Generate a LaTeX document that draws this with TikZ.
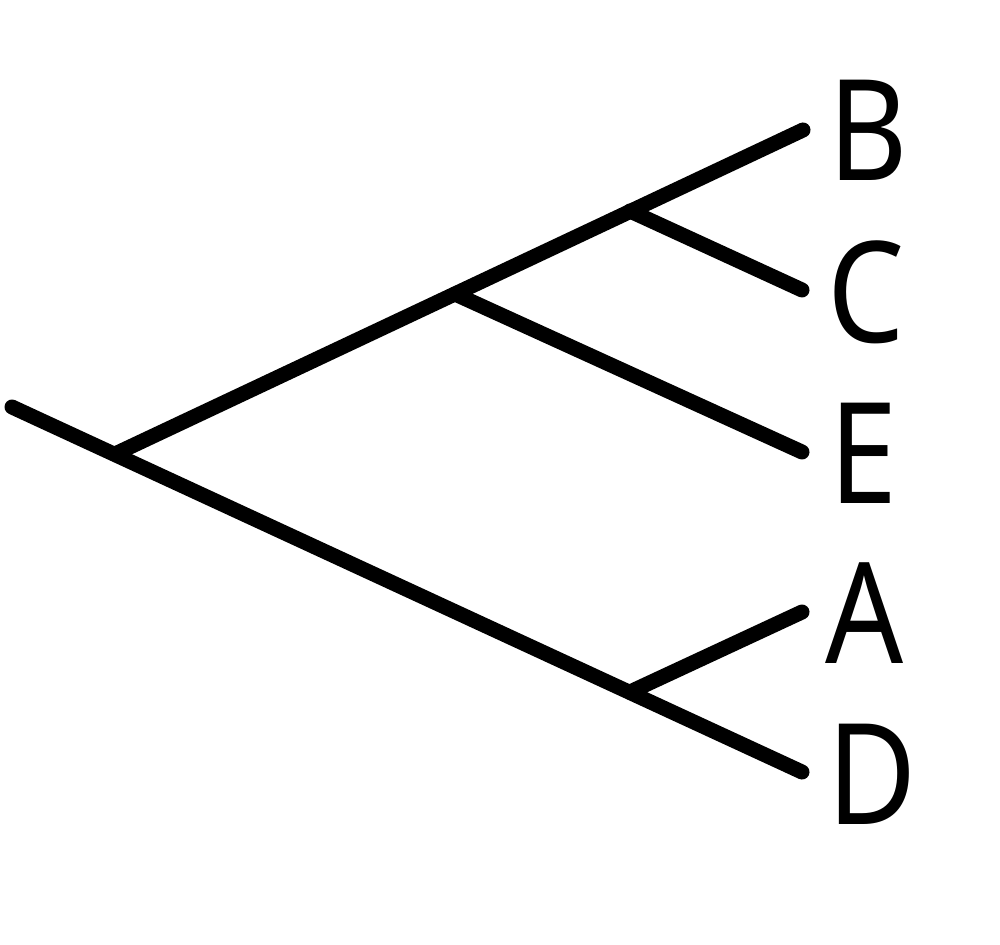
\documentclass[tikz,border=0pt]{standalone}
\usepackage{fontspec}
\newfontfamily\taxonfont[FakeStretch=0.87]{Noto Sans}
\begin{document}
\begin{tikzpicture}[every node/.style={inner sep=0pt, font=\taxonfont\fontsize{40}{48}\selectfont},
    branch/.style={draw=black, line width=0.15cm, line cap=round}]
    \useasboundingbox (0,0) rectangle (10,9.44);

    % Root and branch points
    \coordinate (root) at (0.12,5.37);
    \coordinate (j1) at (1.15,4.90);
    \coordinate (j2) at (4.55,6.50);
    \coordinate (j3) at (6.30,7.33);
    \coordinate (j4) at (6.30,2.52);

    % Tips
    \coordinate (tipB) at (8.03,8.14);
    \coordinate (tipC) at (8.02,6.54);
    \coordinate (tipE) at (8.02,4.92);
    \coordinate (tipA) at (8.02,3.32);
    \coordinate (tipD) at (8.02,1.72);

    % Taxa
    \node (B) at (8.68,8.14) {B};
    \node (C) at (8.66,6.52) {C};
    \node (E) at (8.63,4.91) {E};
    \node (A) at (8.65,3.31) {A};
    \node (D) at (8.72,1.70) {D};

    % Branches
    \draw[branch] (root) -- (tipD);
    \draw[branch] (j1) -- (tipB);
    \draw[branch] (j2) -- (tipE);
    \draw[branch] (j3) -- (tipC);
    \draw[branch] (j4) -- (tipA);

\end{tikzpicture}
\end{document}
